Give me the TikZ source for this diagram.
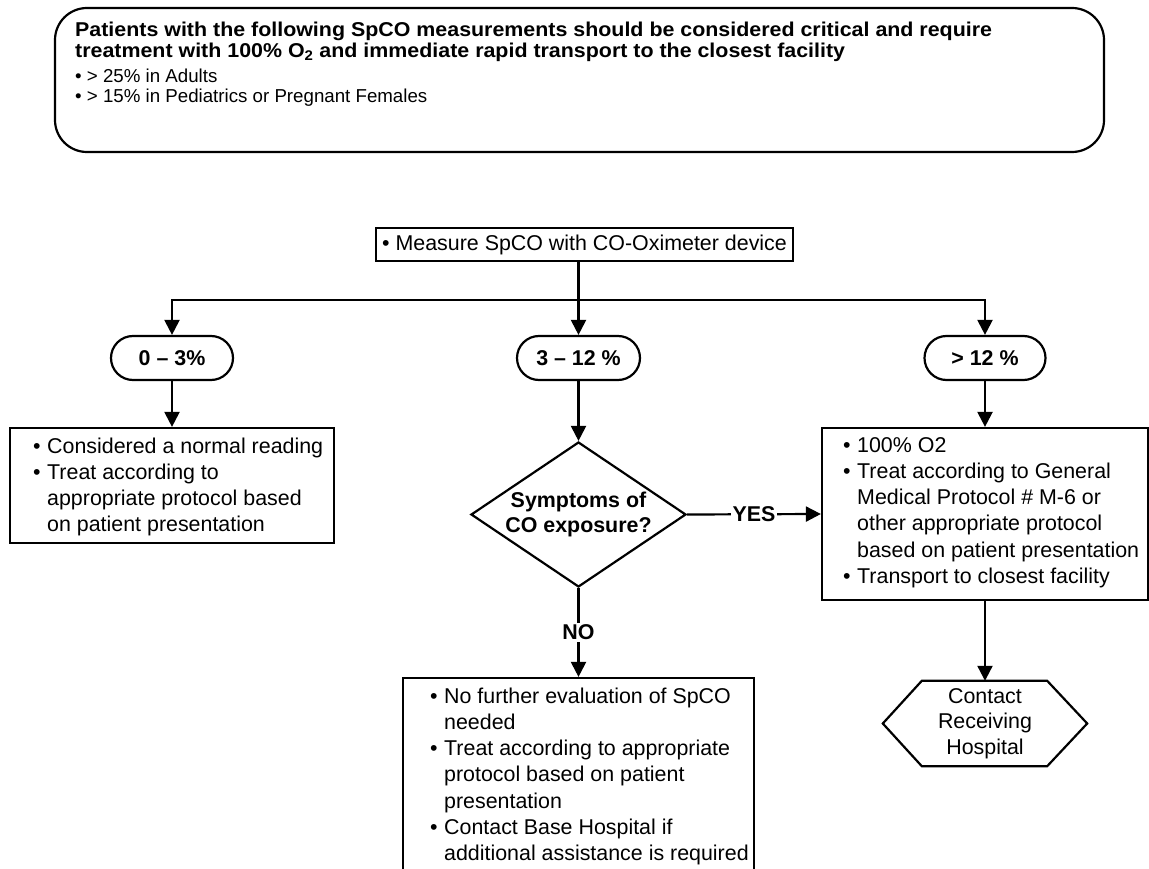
\documentclass[tikz,border=0pt]{standalone}
\usepackage{fontspec}
\setmainfont{Liberation Sans}
\newfontfamily\hdfont[FakeStretch=1.07]{Liberation Sans}
\usetikzlibrary{arrows.meta,shapes.geometric}
\newcommand\boxfont{\fontsize{21.4}{26.2}\selectfont}
\newcommand\boxbold{\fontsize{21.4}{25}\selectfont\bfseries}
\newcommand\bul{\textbullet}
\tikzset{
  every node/.style={inner sep=0pt},
  ln/.style={line width=2.2pt},
  arr/.style={line width=2.2pt, -{Triangle[length=15pt,width=15pt]}},
  boxf/.style={draw, line width=2.2pt, rectangle},
  pill/.style={draw, line width=2.2pt, rounded corners=22pt, minimum width=122pt, minimum height=44pt, font=\boxbold},
  txt/.style={anchor=north west, align=left, font=\boxfont},
  lbl/.style={fill=white, font=\boxbold, inner sep=1.5pt},
}
\begin{document}
\begin{tikzpicture}[x=1pt,y=-1pt]
\path[use as bounding box] (0,0) rectangle (1149,869);
\clip (0,0) rectangle (1149,869);
% top critical box
\node[draw, ln, rounded corners=32pt, minimum width=1049pt, minimum height=144pt] (critbox) at (579.5,80) {};
\node[anchor=north west, align=left, font={\hdfont\fontsize{20}{21}\selectfont\bfseries}] (crithead) at (75,21.5)
 {Patients with the following SpCO measurements should be considered critical and require\\
  treatment with 100\% O\textsubscript{2} and immediate rapid transport to the closest facility};
\node[anchor=north west, align=left, font={\fontsize{18.7}{20.5}\selectfont}] (critlist) at (75,68.6)
 {\bul\ > 25\% in Adults\\
  \bul\ > 15\% in Pediatrics or Pregnant Females};
% measure
\node[boxf, minimum height=33pt, inner xsep=6pt, font=\boxfont] (measure) at (584.5,244.5) {\bul\ Measure SpCO with CO-Oximeter device};
\coordinate (split) at (578.5,300);
% pills
\node[pill] (p1) at (172,358) {0 – 3\%};
\node[pill, minimum width=123pt] (p2) at (578.5,358) {3 – 12 \%};
\node[pill, minimum width=121pt] (p3) at (985,358) {> 12 \%};
% left box
\node[boxf, minimum width=324pt, minimum height=115pt] (lbox) at (172,485.5) {};
\node[txt] (ltext) at (33,434.7) {\begin{tabular}{@{}l@{\hspace{6.5pt}}l@{}}
\bul & Considered a normal reading\\
\bul & Treat according to\\
 & appropriate protocol based\\
 & on patient presentation
\end{tabular}};
% diamond
\node[draw, ln, shape=diamond, aspect=1.48, minimum width=215pt, minimum height=145pt, font=\boxbold, align=center] (dia) at (578.5,514.5) {Symptoms of\\CO exposure?};
% right box
\node[boxf, minimum width=326pt, minimum height=172pt] (rbox) at (985,514) {};
\node[txt] (rtext) at (843,433.7) {\begin{tabular}{@{}l@{\hspace{6.5pt}}l@{}}
\bul & 100\% O2\\
\bul & Treat according to General\\
 & Medical Protocol \# M-6 or\\
 & other appropriate protocol\\
 & based on patient presentation\\
\bul & Transport to closest facility
\end{tabular}};
% bottom box
\node[boxf, minimum width=351pt, minimum height=200pt] (bbox) at (578.5,778) {};
\node[txt] (btext) at (430,684.7) {\begin{tabular}{@{}l@{\hspace{6.5pt}}l@{}}
\bul & No further evaluation of SpCO\\
 & needed\\
\bul & Treat according to appropriate\\
 & protocol based on patient\\
 & presentation\\
\bul & Contact Base Hospital if\\
 & additional assistance is required
\end{tabular}};
% hexagon
\node[minimum width=204pt, minimum height=85pt, align=center, font=\fontsize{21.4}{25.5}\selectfont] (hex) at (985,723.5) {Contact\\Receiving\\Hospital};
\draw[ln, line join=miter] (hex.west) -- ([xshift=39pt]hex.north west) -- ([xshift=-40pt]hex.north east) -- (hex.east) -- ([xshift=-40pt]hex.south east) -- ([xshift=39pt]hex.south west) -- cycle;
% connectors
\draw[arr] (measure.south -| p2) -- (p2.north);
\draw[arr] (split) -| (p1.north);
\draw[arr] (split) -| (p3.north);
\draw[arr] (p1.south) -- (lbox.north);
\draw[arr] (p2.south) -- (dia.north);
\draw[arr] (p3.south) -- (rbox.north);
\draw[arr] (dia.east) -- node[lbl] (yes) {YES} (rbox.west);
\draw[arr] (dia.south) -- node[lbl] (no) {NO} (bbox.north);
\draw[arr] (rbox.south) -- (hex.north);
\end{tikzpicture}
\end{document}
